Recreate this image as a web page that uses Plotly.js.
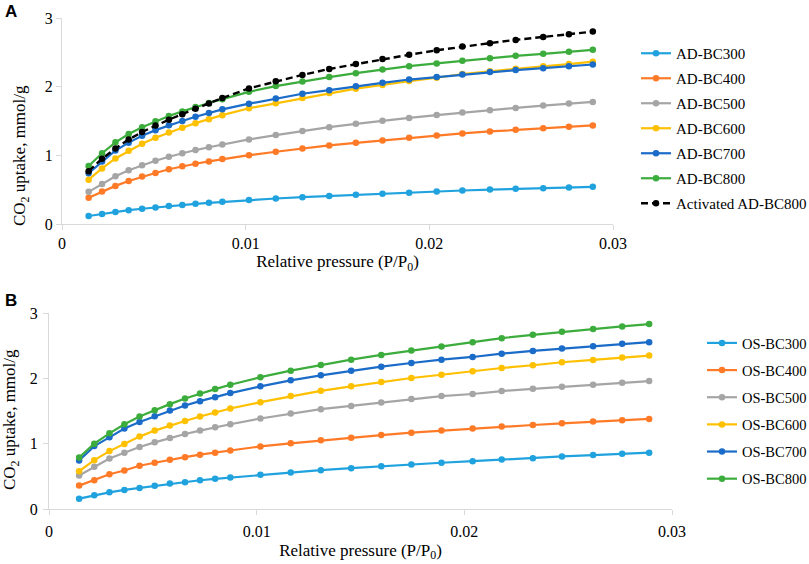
<!DOCTYPE html>
<html>
<head>
<meta charset="utf-8">
<script src="https://cdn.plot.ly/plotly-3.0.1.min.js"></script>
<style>html,body{margin:0;padding:0;background:#fff;}#chart{width:809px;height:564px;}</style>
</head>
<body>
<div id="chart"></div>
<script>
// Relative pressure (P/P0)
const pressure = [0.00145, 0.00218, 0.00291, 0.00363, 0.00436, 0.00509, 0.00582, 0.00655, 0.00727, 0.0080, 0.00873,
  0.01018, 0.01164, 0.01309, 0.01455, 0.0160, 0.01745, 0.0189, 0.0204, 0.0218, 0.0233, 0.0247, 0.0262, 0.0276, 0.0289];

// Panel A: CO2 uptake, mmol/g
const adBC300 = [0.116, 0.145, 0.176, 0.201, 0.222, 0.242, 0.262, 0.277, 0.294, 0.309, 0.323, 0.350, 0.371, 0.391, 0.409, 0.425, 0.440, 0.455, 0.474, 0.488, 0.501, 0.512, 0.522, 0.531, 0.541];
const adBC400 = [0.381, 0.472, 0.555, 0.627, 0.690, 0.743, 0.797, 0.840, 0.878, 0.912, 0.945, 1.002, 1.052, 1.100, 1.145, 1.182, 1.217, 1.255, 1.288, 1.319, 1.348, 1.372, 1.396, 1.415, 1.435];
const adBC500 = [0.468, 0.584, 0.696, 0.783, 0.855, 0.922, 0.980, 1.030, 1.077, 1.118, 1.159, 1.232, 1.295, 1.355, 1.410, 1.459, 1.505, 1.545, 1.586, 1.623, 1.657, 1.690, 1.725, 1.754, 1.778];
const adBC600 = [0.645, 0.810, 0.955, 1.065, 1.168, 1.256, 1.333, 1.401, 1.469, 1.527, 1.585, 1.686, 1.758, 1.836, 1.908, 1.971, 2.024, 2.082, 2.130, 2.184, 2.223, 2.262, 2.296, 2.329, 2.364];
const adBC700 = [0.740, 0.910, 1.070, 1.185, 1.285, 1.367, 1.438, 1.500, 1.562, 1.618, 1.670, 1.752, 1.829, 1.897, 1.949, 2.007, 2.056, 2.104, 2.140, 2.178, 2.212, 2.241, 2.270, 2.299, 2.323];
const adBC800 = [0.845, 1.030, 1.190, 1.310, 1.410, 1.495, 1.572, 1.640, 1.703, 1.762, 1.818, 1.925, 2.009, 2.077, 2.139, 2.197, 2.251, 2.299, 2.338, 2.377, 2.414, 2.449, 2.478, 2.507, 2.536];
const actADBC800 = [0.770, 0.950, 1.100, 1.230, 1.340, 1.435, 1.520, 1.600, 1.680, 1.755, 1.835, 1.975, 2.078, 2.171, 2.258, 2.330, 2.403, 2.465, 2.530, 2.585, 2.634, 2.681, 2.725, 2.764, 2.802];

// Panel B: CO2 uptake, mmol/g
const osBC300 = [0.158, 0.209, 0.255, 0.292, 0.323, 0.354, 0.389, 0.409, 0.440, 0.462, 0.482, 0.525, 0.558, 0.594, 0.625, 0.655, 0.682, 0.708, 0.732, 0.758, 0.778, 0.805, 0.825, 0.846, 0.862];
const osBC400 = [0.358, 0.440, 0.532, 0.589, 0.662, 0.708, 0.754, 0.794, 0.831, 0.862, 0.897, 0.958, 1.005, 1.051, 1.092, 1.132, 1.169, 1.200, 1.233, 1.262, 1.286, 1.312, 1.338, 1.358, 1.378];
const osBC500 = [0.512, 0.646, 0.774, 0.862, 0.948, 1.020, 1.086, 1.148, 1.200, 1.251, 1.297, 1.385, 1.462, 1.528, 1.578, 1.631, 1.682, 1.728, 1.760, 1.805, 1.840, 1.871, 1.902, 1.932, 1.958];
const osBC600 = [0.578, 0.748, 0.886, 0.994, 1.108, 1.200, 1.277, 1.348, 1.415, 1.477, 1.538, 1.635, 1.728, 1.809, 1.877, 1.943, 2.005, 2.055, 2.110, 2.158, 2.200, 2.246, 2.282, 2.317, 2.348];
const osBC700 = [0.743, 0.963, 1.097, 1.231, 1.332, 1.420, 1.508, 1.585, 1.651, 1.712, 1.774, 1.877, 1.969, 2.046, 2.117, 2.178, 2.235, 2.286, 2.327, 2.378, 2.420, 2.455, 2.492, 2.528, 2.554];
const osBC800 = [0.789, 1.000, 1.158, 1.297, 1.415, 1.512, 1.605, 1.692, 1.769, 1.835, 1.902, 2.018, 2.117, 2.205, 2.286, 2.358, 2.425, 2.486, 2.553, 2.615, 2.666, 2.712, 2.754, 2.794, 2.831];

const namesA = ["AD-BC300", "AD-BC400", "AD-BC500", "AD-BC600", "AD-BC700", "AD-BC800", "Activated AD-BC800"];
const namesB = ["OS-BC300", "OS-BC400", "OS-BC500", "OS-BC600", "OS-BC700", "OS-BC800"];
const colors = ["#1fa2de", "#ff7a26", "#a5a5a5", "#ffc000", "#1a6cc8", "#3cad3c", "#000000"];

const seriesA = [adBC300, adBC400, adBC500, adBC600, adBC700, adBC800, actADBC800];
const seriesB = [osBC300, osBC400, osBC500, osBC600, osBC700, osBC800];

const traces = [];
seriesA.forEach((ys, i) => {
  traces.push({
    x: pressure, y: ys, name: namesA[i], type: "scatter", mode: "lines+markers",
    xaxis: "x", yaxis: "y", legend: "legend", legendgroup: "a" + i,
    line: {color: colors[i], width: i === 6 ? 2.4 : 2.2, dash: i === 6 ? "7px,4px" : "solid"},
    marker: {color: colors[i], size: 6.5, symbol: "circle"}
  });
});
seriesB.forEach((ys, i) => {
  traces.push({
    x: pressure, y: ys, name: namesB[i], type: "scatter", mode: "lines+markers",
    xaxis: "x2", yaxis: "y2", legend: "legend2", legendgroup: "b" + i,
    line: {color: colors[i], width: 2.2},
    marker: {color: colors[i], size: 6.5, symbol: "circle"}
  });
});

const W = 809, H = 564;
const serif = "Liberation Serif";
const axisCommon = {
  showgrid: false, zeroline: false, showline: true, linecolor: "#d9d9d9", linewidth: 1,
  ticks: "outside", ticklen: 5, tickcolor: "#d9d9d9", tickwidth: 1
};
const xTicks = [0, 0.01, 0.02, 0.03];
const xLabels = ["0", "0.01", "0.02", "0.03"];
const yTicks = [0, 1, 2, 3];
const yLabels = ["0", "1", "2", "3"];

function tf() { return {family: serif, size: 16, color: "#000"}; }

const layout = {
  width: W, height: H,
  font: {family: serif, size: 16, color: "#000"},
  margin: {l: 0, r: 0, t: 0, b: 0, autoexpand: false},
  paper_bgcolor: "#fff", plot_bgcolor: "#fff",
  showlegend: true,
  xaxis: Object.assign({}, axisCommon, {
    domain: [62 / W, 613 / W], range: [0, 0.03], tickvals: xTicks, ticktext: xLabels, anchor: "y", tickfont: tf(),
    title: {text: "Relative pressure (P/P<sub>0</sub>)", font: {family: serif, size: 17, color: "#000"}, standoff: 2}
  }),
  yaxis: Object.assign({}, axisCommon, {
    domain: [1 - 224 / H, 1 - 18 / H], range: [0, 3], tickvals: yTicks, ticktext: yLabels, anchor: "x", tickfont: tf()
  }),
  xaxis2: Object.assign({}, axisCommon, {
    domain: [49 / W, 672 / W], range: [0, 0.03], tickvals: xTicks, ticktext: xLabels, anchor: "y2", tickfont: tf(),
    ticklabelstandoff: 3,
    title: {text: "Relative pressure (P/P<sub>0</sub>)", font: {family: serif, size: 17, color: "#000"}, standoff: 4}
  }),
  yaxis2: Object.assign({}, axisCommon, {
    domain: [1 - 509 / H, 1 - 313 / H], range: [0, 3], tickvals: yTicks, ticktext: yLabels, anchor: "x2", tickfont: tf(),
    ticklabelstandoff: 2
  }),
  legend: {
    x: 636 / W, xanchor: "left", y: 1 - 37 / H, yanchor: "top",
    font: {family: serif, size: 15, color: "#000"}, bgcolor: "rgba(0,0,0,0)",
    tracegroupgap: 2.5, itemwidth: 30
  },
  legend2: {
    x: 702 / W, xanchor: "left", y: 1 - 327 / H, yanchor: "top",
    font: {family: serif, size: 14.5, color: "#000"}, bgcolor: "rgba(0,0,0,0)",
    tracegroupgap: 5.3, itemwidth: 30
  },
  annotations: [
    {text: "<b>A</b>", xref: "paper", yref: "paper", x: 10.5 / W, y: 1 - 11.5 / H, xanchor: "center", yanchor: "middle",
     showarrow: false, font: {family: "Liberation Sans", size: 17, color: "#000"}},
    {text: "<b>B</b>", xref: "paper", yref: "paper", x: 10.5 / W, y: 1 - 300 / H, xanchor: "center", yanchor: "middle",
     showarrow: false, font: {family: "Liberation Sans", size: 17, color: "#000"}},
    {text: "CO<sub>2</sub> uptake, mmol/g", xref: "paper", yref: "paper", x: 21 / W, y: 1 - 156 / H, textangle: -90,
     xanchor: "center", yanchor: "middle", showarrow: false, font: {family: serif, size: 17, color: "#000"}},
    {text: "CO<sub>2</sub> uptake, mmol/g", xref: "paper", yref: "paper", x: 11 / W, y: 1 - 420 / H, textangle: -90,
     xanchor: "center", yanchor: "middle", showarrow: false, font: {family: serif, size: 17, color: "#000"}}
  ]
};

Plotly.newPlot("chart", traces, layout, {displayModeBar: false, staticPlot: true});
</script>
</body>
</html>
